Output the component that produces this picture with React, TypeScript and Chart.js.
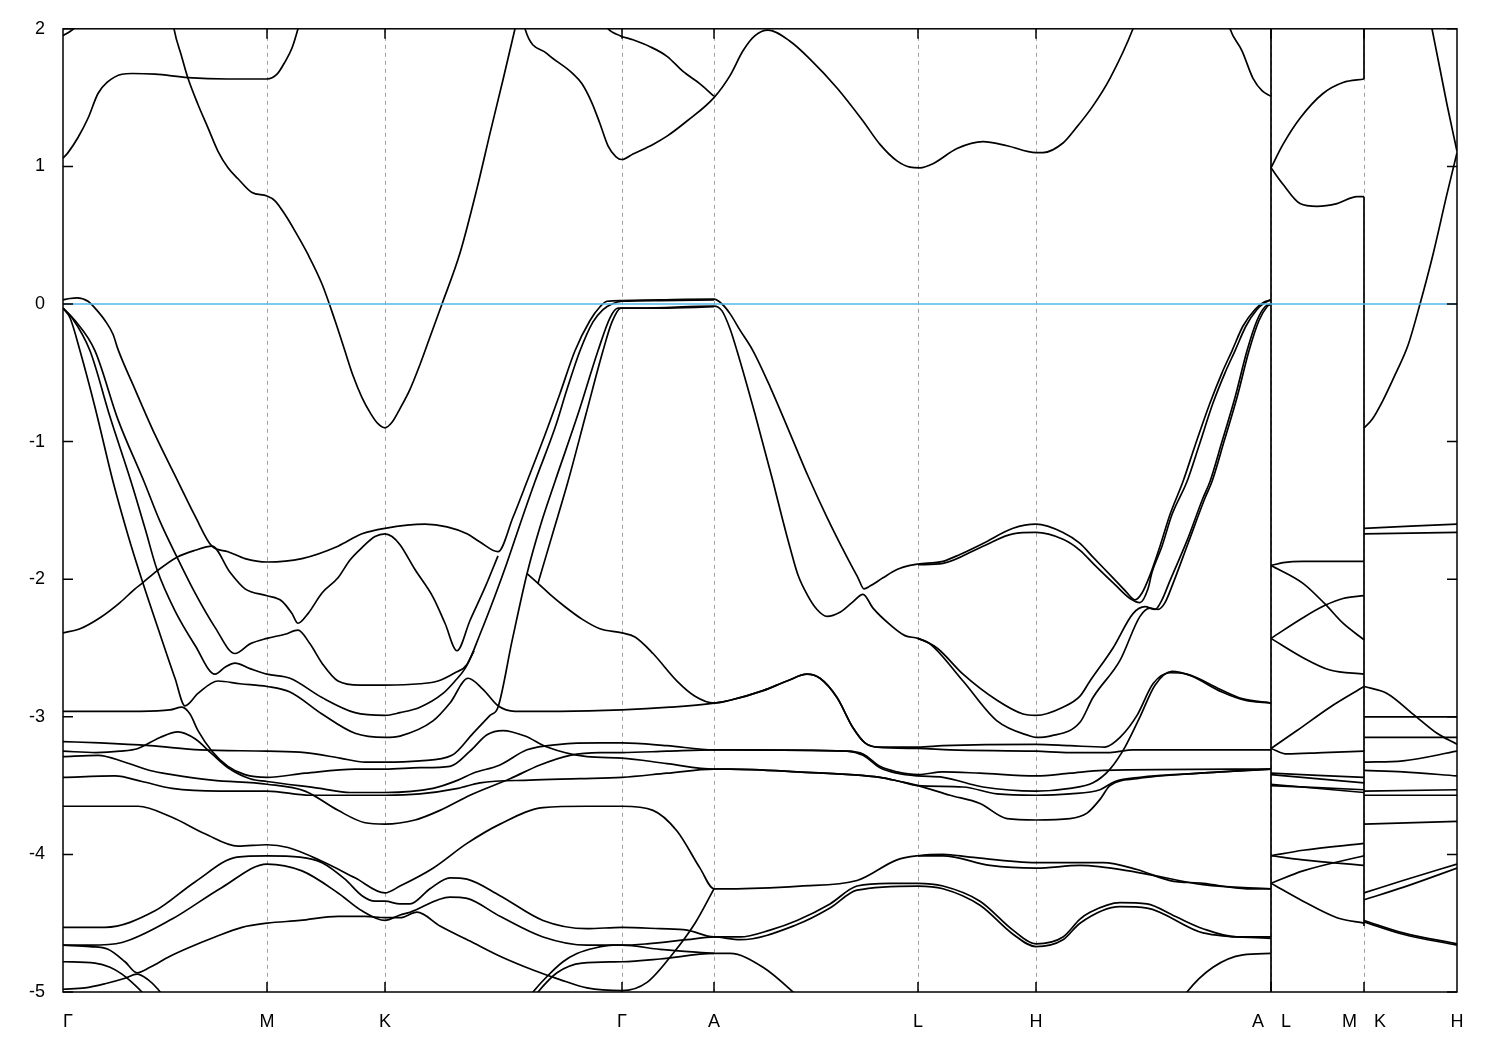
import React, { useEffect, useRef } from "react";
import { Chart, registerables } from "chart.js";

Chart.register(...registerables);

type Pt = [number, number];

// ---- axis data ----
const kTicks: number[] = [0, 204, 322, 559, 651, 855, 973, 1208, 1301, 1394];
const kLabels: string[] = ["Γ", "M", "K", "Γ", "A", "L", "H", "A|L", "M|K", "H"];
const eMin = -5;
const eMax = 2;
const fermiLevel = 0;

// ---- main path bands (Γ-M-K-Γ-A-L-H-A) ----
const C0: Pt[] = [[0, 1.95], [7, 1.98], [14, 2.02], [27, 2.1]];
const C1: Pt[] = [[0, 1.06], [5, 1.1], [15, 1.21], [25, 1.35], [35, 1.53], [44, 1.61], [59, 1.67], [69, 1.675], [92, 1.67], [125, 1.645], [165, 1.635], [204, 1.635], [214, 1.67], [222, 1.76], [229, 1.86], [235, 2.0], [242, 2.2]];
const C2: Pt[] = [[107, 2.2], [111, 2.0], [119, 1.79], [125, 1.64], [135, 1.45], [145, 1.28], [155, 1.11], [165, 0.99], [175, 0.91], [189, 0.81], [204, 0.785], [212, 0.75], [222, 0.65], [232, 0.53], [245, 0.36], [259, 0.145], [272, -0.12], [281, -0.32], [290, -0.52], [299, -0.68], [308, -0.8], [315, -0.87], [322, -0.9], [329, -0.86], [337, -0.76], [347, -0.62], [357, -0.44], [367, -0.24], [379, 0.0], [397, 0.37], [414, 0.84], [427, 1.24], [440, 1.63], [452, 2.0], [457, 2.16]];
const C3: Pt[] = [[457, 2.2], [462, 2.0], [484, 1.82], [509, 1.68], [519, 1.6], [529, 1.46], [537, 1.31], [545, 1.15], [553, 1.07], [559, 1.05], [570, 1.09], [590, 1.16], [604, 1.22], [624, 1.33], [651, 1.5], [667, 1.66], [680, 1.84], [692, 1.95], [705, 1.99], [727, 1.91], [747, 1.78], [774, 1.57], [800, 1.33], [817, 1.16], [834, 1.04], [847, 0.995], [857, 0.99], [870, 1.02], [894, 1.13], [920, 1.18], [944, 1.15], [973, 1.1], [980, 1.1], [1000, 1.17], [1012, 1.27], [1030, 1.44], [1047, 1.64], [1070, 2.0], [1077, 2.15]];
const C4: Pt[] = [[537, 2.1], [545, 2.0], [557, 1.95], [570, 1.92], [587, 1.87], [604, 1.8], [620, 1.69], [637, 1.6], [651, 1.51]];
const C5: Pt[] = [[1162, 2.15], [1167, 2.0], [1179, 1.84], [1190, 1.64], [1199, 1.55], [1208, 1.51]];

const B1: Pt[] = [[0, 0.03], [7, 0.04], [14, 0.045], [25, 0.02], [32, -0.03], [42, -0.12], [50, -0.22], [55, -0.33], [72, -0.62], [92, -0.95], [115, -1.29], [132, -1.54], [149, -1.76], [165, -1.8], [182, -1.85], [204, -1.875], [239, -1.85], [275, -1.76], [299, -1.67], [322, -1.63], [362, -1.6], [384, -1.62], [404, -1.67], [417, -1.73], [435, -1.8], [450, -1.55], [464, -1.29], [482, -0.95], [497, -0.65], [512, -0.34], [527, -0.12], [537, -0.02], [544, 0.02], [559, 0.025], [597, 0.03], [651, 0.035], [659, 0.0], [667, -0.07], [677, -0.19], [690, -0.34], [707, -0.6], [727, -0.94], [745, -1.25], [764, -1.55], [784, -1.84], [795, -1.99], [801, -2.07], [807, -2.05], [820, -1.99], [834, -1.93], [847, -1.9], [855, -1.89], [880, -1.87], [897, -1.82], [920, -1.74], [950, -1.63], [973, -1.6], [1000, -1.66], [1017, -1.74], [1030, -1.84], [1050, -1.99], [1063, -2.09], [1072, -2.15], [1079, -2.1], [1087, -1.97], [1097, -1.76], [1107, -1.53], [1120, -1.29], [1132, -1.03], [1147, -0.72], [1159, -0.5], [1169, -0.34], [1180, -0.16], [1192, -0.04], [1200, 0.01], [1208, 0.03]];
const KP: Pt[] = [[0, -2.39], [17, -2.36], [37, -2.28], [57, -2.17], [72, -2.07], [79, -2.03], [94, -1.94], [114, -1.84], [132, -1.79], [149, -1.76], [167, -1.95], [182, -2.07], [204, -2.12], [219, -2.16], [229, -2.25], [235, -2.32], [245, -2.25], [259, -2.1], [275, -1.99], [287, -1.86], [299, -1.77], [312, -1.69], [322, -1.67], [329, -1.69], [337, -1.75], [352, -1.93], [370, -2.13], [382, -2.32], [394, -2.52], [407, -2.3], [422, -2.06], [435, -1.83]];
const SA: Pt[] = [[0, -0.03], [12, -0.12], [32, -0.34], [55, -0.84], [81, -1.29], [97, -1.58], [114, -1.84], [132, -2.1], [152, -2.35], [172, -2.54], [187, -2.47], [204, -2.43], [222, -2.4], [235, -2.37], [247, -2.47], [259, -2.61], [275, -2.74], [297, -2.77], [322, -2.77], [357, -2.76], [375, -2.74], [392, -2.68], [404, -2.62], [417, -2.4], [432, -2.12], [444, -1.88], [458, -1.58], [472, -1.29], [492, -0.9], [504, -0.62], [517, -0.34], [530, -0.13], [540, -0.04], [549, 0.0], [559, 0.02], [597, 0.025], [651, 0.03]];
const SB: Pt[] = [[0, -0.03], [9, -0.1], [27, -0.34], [47, -0.82], [68, -1.29], [82, -1.63], [94, -1.93], [112, -2.23], [132, -2.48], [152, -2.69], [162, -2.64], [172, -2.61], [187, -2.65], [204, -2.69], [227, -2.72], [259, -2.86], [292, -2.97], [322, -2.99], [337, -2.97], [357, -2.93], [380, -2.83], [392, -2.74], [402, -2.65], [411, -2.52]];
const SC: Pt[] = [[0, -0.03], [7, -0.1], [17, -0.34], [32, -0.75], [50, -1.29], [65, -1.68], [80, -2.03], [97, -2.4], [112, -2.72], [122, -2.92], [135, -2.83], [155, -2.74], [177, -2.76], [204, -2.78], [227, -2.82], [259, -2.98], [292, -3.12], [322, -3.15], [337, -3.14], [370, -3.03], [387, -2.9], [405, -2.72], [420, -2.8], [435, -2.92], [452, -2.96], [497, -2.96], [559, -2.95], [607, -2.93], [651, -2.9], [667, -2.88], [700, -2.81], [724, -2.74], [744, -2.69], [757, -2.72], [774, -2.86], [790, -3.08], [802, -3.19], [814, -3.22], [855, -3.23], [887, -3.24], [973, -3.25], [1007, -3.26], [1047, -3.26], [1070, -3.24], [1208, -3.24]];
const G239: Pt[] = [[464, -1.96], [475, -2.03], [487, -2.11], [502, -2.2], [519, -2.29], [537, -2.36], [559, -2.39], [572, -2.42], [590, -2.54], [614, -2.74], [632, -2.85], [651, -2.9], [667, -2.88], [700, -2.81], [724, -2.74], [744, -2.69], [757, -2.72], [774, -2.86], [790, -3.08], [802, -3.19], [814, -3.22], [855, -3.22], [880, -3.21], [973, -3.2], [1007, -3.21], [1042, -3.22], [1057, -3.15], [1074, -2.99], [1090, -2.76], [1107, -2.68], [1124, -2.69], [1157, -2.8], [1180, -2.87], [1208, -2.9]];
const LB: Pt[] = [[0, -3.18], [37, -3.19], [87, -3.21], [137, -3.24], [204, -3.25], [242, -3.26], [277, -3.3], [302, -3.33], [322, -3.33], [357, -3.32], [389, -3.28], [410, -3.12], [427, -2.99], [435, -2.93], [449, -2.45], [464, -1.96], [477, -1.62], [492, -1.29], [515, -0.8], [535, -0.34], [547, -0.1], [555, -0.03], [577, -0.03], [651, -0.015], [659, -0.05], [667, -0.18], [674, -0.34], [692, -0.8], [710, -1.29], [719, -1.55], [727, -1.77], [735, -1.97], [744, -2.11], [754, -2.22], [764, -2.27], [777, -2.24], [789, -2.17], [800, -2.11], [810, -2.21], [827, -2.33], [842, -2.41], [855, -2.43], [874, -2.5], [900, -2.69], [934, -2.88], [960, -2.98], [973, -2.99], [1000, -2.93], [1017, -2.85], [1027, -2.74], [1050, -2.5], [1070, -2.25], [1082, -2.2], [1092, -2.22], [1099, -2.15], [1107, -2.01], [1124, -1.72], [1140, -1.41], [1147, -1.29], [1159, -1.0], [1172, -0.68], [1184, -0.34], [1194, -0.12], [1202, -0.02], [1208, 0.0]];
const R4: Pt[] = [[475, -2.03], [490, -1.66], [505, -1.29], [523, -0.8], [540, -0.34], [549, -0.13], [558, -0.03], [597, -0.03], [651, -0.02]];
const LHB: Pt[] = [[855, -1.895], [880, -1.885], [920, -1.76], [950, -1.67], [973, -1.66], [1000, -1.71], [1017, -1.79], [1032, -1.9], [1052, -2.04], [1067, -2.14], [1077, -2.17], [1085, -2.07], [1089, -1.95], [1099, -1.76], [1109, -1.53], [1124, -1.29], [1136, -1.03], [1150, -0.72], [1162, -0.5], [1172, -0.34], [1183, -0.16], [1194, -0.04], [1202, 0.01], [1208, 0.03]];
const PLOW: Pt[] = [[855, -2.43], [867, -2.47], [900, -2.74], [934, -3.03], [967, -3.14], [973, -3.15], [987, -3.14], [1017, -3.04], [1030, -2.86], [1057, -2.59], [1077, -2.27], [1087, -2.21], [1095, -2.22], [1102, -2.17], [1109, -2.05], [1125, -1.74], [1142, -1.41], [1149, -1.29], [1161, -1.0], [1174, -0.68], [1186, -0.34], [1196, -0.12], [1204, -0.02], [1208, 0.0]];
const L1: Pt[] = [[0, -2.96], [37, -2.96], [77, -2.96], [107, -2.95], [119, -2.93], [127, -2.98], [135, -3.1], [149, -3.25], [165, -3.36], [182, -3.42], [204, -3.44], [242, -3.41], [292, -3.38], [322, -3.38], [357, -3.37], [387, -3.36], [407, -3.25], [424, -3.13], [440, -3.1], [462, -3.14], [484, -3.22], [524, -3.29], [559, -3.3], [604, -3.34], [651, -3.38], [667, -3.38], [734, -3.4], [817, -3.44], [837, -3.47], [855, -3.5], [887, -3.57], [917, -3.63], [944, -3.74], [973, -3.75], [1007, -3.74], [1024, -3.7], [1037, -3.6], [1047, -3.5], [1074, -3.45], [1137, -3.41], [1208, -3.38]];
const LC: Pt[] = [[0, -3.25], [33, -3.26], [57, -3.25], [75, -3.23], [97, -3.15], [115, -3.11], [132, -3.16], [149, -3.27], [165, -3.37], [187, -3.45], [204, -3.47], [257, -3.52], [287, -3.55], [322, -3.55], [370, -3.52], [395, -3.46], [410, -3.41], [437, -3.35], [464, -3.24], [497, -3.2], [537, -3.19], [559, -3.19], [604, -3.21], [651, -3.24], [667, -3.24], [784, -3.25], [800, -3.27], [817, -3.36], [834, -3.4], [855, -3.42], [880, -3.4], [917, -3.41], [973, -3.43], [1007, -3.41], [1040, -3.39], [1208, -3.38]];
const LD: Pt[] = [[0, -3.29], [35, -3.28], [62, -3.33], [87, -3.39], [109, -3.42], [149, -3.46], [204, -3.49], [242, -3.54], [275, -3.68], [302, -3.77], [322, -3.78], [352, -3.75], [377, -3.68], [407, -3.57], [447, -3.45], [477, -3.35], [507, -3.28], [537, -3.26], [559, -3.26], [604, -3.25], [651, -3.24], [667, -3.24], [784, -3.25], [800, -3.28], [817, -3.37], [834, -3.41], [855, -3.43], [880, -3.44], [920, -3.51], [973, -3.54], [1007, -3.52], [1030, -3.48], [1047, -3.38], [1062, -3.22], [1077, -3.0], [1092, -2.77], [1109, -2.67], [1127, -2.7], [1159, -2.82], [1182, -2.88], [1208, -2.9]];
const LE: Pt[] = [[0, -3.44], [52, -3.43], [79, -3.47], [109, -3.52], [157, -3.54], [204, -3.54], [247, -3.57], [322, -3.57], [357, -3.56], [395, -3.52], [417, -3.48], [467, -3.46], [517, -3.45], [559, -3.44], [604, -3.41], [651, -3.38], [667, -3.38], [734, -3.4], [817, -3.44], [837, -3.47], [855, -3.5], [900, -3.51], [934, -3.56], [973, -3.57], [1007, -3.56], [1037, -3.53], [1052, -3.47], [1077, -3.44], [1137, -3.41], [1208, -3.38]];
const LF: Pt[] = [[0, -3.65], [37, -3.65], [75, -3.65], [109, -3.73], [142, -3.85], [175, -3.94], [204, -3.93], [225, -3.95], [259, -4.05], [292, -4.17], [322, -4.28], [337, -4.23], [370, -4.1], [404, -3.92], [437, -3.78], [480, -3.66], [524, -3.65], [559, -3.65], [590, -3.68], [614, -3.83], [637, -4.1], [651, -4.25], [667, -4.25], [737, -4.23], [794, -4.19], [834, -4.04], [855, -4.01], [880, -4.0], [907, -4.02], [973, -4.06], [1007, -4.06], [1040, -4.06], [1074, -4.11], [1107, -4.19], [1140, -4.21], [1184, -4.25], [1208, -4.25]];
const LF2: Pt[] = [[855, -4.01], [880, -4.01], [927, -4.08], [973, -4.1], [1017, -4.08], [1074, -4.13], [1140, -4.22], [1208, -4.25]];
const LG: Pt[] = [[0, -4.53], [42, -4.53], [92, -4.41], [132, -4.2], [174, -4.02], [204, -4.01], [237, -4.02], [259, -4.06], [282, -4.18], [299, -4.3], [312, -4.34], [322, -4.34], [337, -4.36], [347, -4.36], [367, -4.25], [387, -4.17], [404, -4.18], [437, -4.3], [480, -4.48], [524, -4.54], [559, -4.53], [597, -4.54], [624, -4.55], [651, -4.6], [677, -4.6], [707, -4.55], [734, -4.48], [767, -4.36], [794, -4.23], [827, -4.21], [855, -4.21], [880, -4.23], [917, -4.34], [950, -4.55], [973, -4.65], [1000, -4.6], [1017, -4.47], [1027, -4.42], [1057, -4.35], [1084, -4.36], [1112, -4.45], [1140, -4.54], [1174, -4.6], [1208, -4.6]];
const LH: Pt[] = [[0, -4.66], [27, -4.66], [59, -4.64], [109, -4.47], [159, -4.24], [204, -4.07], [239, -4.12], [275, -4.28], [299, -4.41], [322, -4.48], [337, -4.44], [347, -4.42], [387, -4.31], [404, -4.32], [437, -4.45], [480, -4.6], [524, -4.66], [559, -4.66], [584, -4.65], [624, -4.62], [651, -4.6], [677, -4.62], [734, -4.51], [767, -4.39], [794, -4.26], [855, -4.23], [880, -4.25], [917, -4.37], [950, -4.58], [973, -4.67], [1000, -4.62], [1017, -4.5], [1057, -4.38], [1084, -4.39], [1140, -4.57], [1208, -4.61]];
const LV: Pt[] = [[0, -4.66], [27, -4.67], [45, -4.69], [62, -4.78], [74, -4.86], [87, -4.82], [107, -4.74], [125, -4.68], [152, -4.6], [179, -4.53], [204, -4.5], [237, -4.48], [275, -4.45], [302, -4.45], [322, -4.46], [337, -4.46], [354, -4.42], [377, -4.52], [407, -4.63], [437, -4.74], [470, -4.84], [497, -4.91], [524, -4.97], [559, -4.99], [584, -4.93], [610, -4.72], [632, -4.5], [651, -4.25]];
const LJ: Pt[] = [[0, -4.78], [32, -4.79], [47, -4.82], [59, -4.87], [69, -4.93], [79, -5.0], [89, -5.08]];
const LK: Pt[] = [[0, -4.98], [22, -4.97], [42, -4.94], [62, -4.9], [74, -4.87], [85, -4.91], [95, -4.98], [102, -5.05]];
const G478: Pt[] = [[467, -5.08], [475, -5.0], [494, -4.86], [519, -4.79], [559, -4.78], [597, -4.76], [651, -4.72], [667, -4.72], [700, -4.82], [730, -5.0], [737, -5.05]];
const G466: Pt[] = [[462, -5.08], [470, -5.0], [485, -4.88], [500, -4.78], [514, -4.72], [532, -4.68], [550, -4.66], [559, -4.66], [597, -4.69], [651, -4.72]];
const HA9: Pt[] = [[1117, -5.08], [1124, -5.0], [1150, -4.82], [1180, -4.73], [1208, -4.72]];

// ---- L-M segment ----
const LMc1: Pt[] = [[1208, 0.99], [1220, 1.16], [1237, 1.35], [1260, 1.53], [1280, 1.61], [1301, 1.635]];
const LMc2: Pt[] = [[1208, 0.99], [1220, 0.87], [1237, 0.73], [1254, 0.71], [1274, 0.73], [1294, 0.78], [1301, 0.78]];
const LMv1: Pt[] = [[1208, -1.9], [1220, -1.88], [1240, -1.87], [1301, -1.87]];
const LMv2: Pt[] = [[1208, -1.9], [1240, -2.03], [1262, -2.18], [1280, -2.32], [1301, -2.44]];
const LMv3: Pt[] = [[1208, -2.43], [1240, -2.28], [1262, -2.19], [1280, -2.14], [1301, -2.12]];
const LMv4: Pt[] = [[1208, -2.43], [1240, -2.57], [1267, -2.66], [1301, -2.69]];
const LMv5: Pt[] = [[1208, -3.23], [1234, -3.1], [1267, -2.93], [1301, -2.78]];
const LMv6: Pt[] = [[1208, -3.23], [1224, -3.27], [1260, -3.26], [1301, -3.25]];
const LMv7: Pt[] = [[1208, -3.41], [1301, -3.44]];
const LMv8: Pt[] = [[1208, -3.42], [1301, -3.48]];
const LMv9: Pt[] = [[1208, -3.49], [1301, -3.55]];
const LMv10: Pt[] = [[1208, -3.5], [1301, -3.53]];
const LMv11: Pt[] = [[1208, -4.01], [1240, -3.97], [1301, -3.92]];
const LMv12: Pt[] = [[1208, -4.01], [1240, -4.04], [1301, -4.08]];
const LMv13: Pt[] = [[1208, -4.21], [1240, -4.12], [1301, -4.01]];
const LMv14: Pt[] = [[1208, -4.21], [1240, -4.34], [1274, -4.46], [1301, -4.5]];

// ---- K-H segment ----
const KHtop: Pt[] = [[1360, 2.3], [1369, 2.0], [1384, 1.45], [1394, 1.11]];
const KHc: Pt[] = [[1301, -0.9], [1309, -0.84], [1320, -0.7], [1333, -0.5], [1345, -0.3], [1357, 0.0], [1370, 0.36], [1384, 0.8], [1394, 1.1]];
const KHv1: Pt[] = [[1301, -1.63], [1394, -1.6]];
const KHv2: Pt[] = [[1301, -1.67], [1394, -1.66]];
const KHv3: Pt[] = [[1301, -2.78], [1324, -2.83], [1350, -2.98], [1374, -3.12], [1394, -3.2]];
const KHv4: Pt[] = [[1301, -3.0], [1394, -3.0]];
const KHv5: Pt[] = [[1301, -3.15], [1394, -3.15]];
const KHv6: Pt[] = [[1301, -3.33], [1340, -3.32], [1394, -3.25]];
const KHv7: Pt[] = [[1301, -3.39], [1340, -3.4], [1394, -3.43]];
const KHv8: Pt[] = [[1301, -3.54], [1394, -3.53]];
const KHv9: Pt[] = [[1301, -3.57], [1394, -3.57]];
const KHv10: Pt[] = [[1301, -3.78], [1394, -3.76]];
const KHv11: Pt[] = [[1301, -4.28], [1340, -4.19], [1394, -4.07]];
const KHv12: Pt[] = [[1301, -4.33], [1340, -4.24], [1394, -4.1]];
const KHv13: Pt[] = [[1301, -4.48], [1340, -4.57], [1394, -4.65]];
const KHv14: Pt[] = [[1301, -4.49], [1340, -4.58], [1394, -4.66]];

// ---- path discontinuities (energy spans joined at A|L and M|K) ----
const jumpALSpans: [number, number][] = [[2.0, -5.0]];
const jumpMKSpans: [number, number][] = [[2.0, 1.635], [0.78, -4.52]];

const bands: Pt[][] = [
  C0, C1, C2, C3, C4, C5, B1, KP, SA, SB, SC, G239, LB, R4, LHB, PLOW,
  L1, LC, LD, LE, LF, LF2, LG, LH, LV, LJ, LK, G478, G466, HA9,
  LMc1, LMc2, LMv1, LMv2, LMv3, LMv4, LMv5, LMv6, LMv7, LMv8, LMv9, LMv10, LMv11, LMv12, LMv13, LMv14,
  KHtop, KHc, KHv1, KHv2, KHv3, KHv4, KHv5, KHv6, KHv7, KHv8, KHv9, KHv10, KHv11, KHv12, KHv13, KHv14,
];

const FONT = "'Liberation Sans', Arial, Helvetica, sans-serif";
const BAND_WIDTH = 1.7;

const framePlugin = {
  id: "gnuFrame",
  beforeDatasetsDraw(chart: any) {
    const { ctx, chartArea, scales } = chart;
    const { top, bottom } = chartArea;
    ctx.save();
    ctx.strokeStyle = "#a0a0a0";
    ctx.lineWidth = 1;
    ctx.setLineDash([4, 4]);
    kTicks.slice(1, -1).forEach((k) => {
      const px = Math.round(scales.x.getPixelForValue(k)) + 0.5;
      ctx.beginPath();
      ctx.moveTo(px, top);
      ctx.lineTo(px, bottom);
      ctx.stroke();
    });
    ctx.restore();
  },
  afterDraw(chart: any) {
    const { ctx, chartArea, scales } = chart;
    const { left, right, top, bottom } = chartArea;
    ctx.save();
    ctx.strokeStyle = "#000";
    ctx.lineWidth = 1.5;
    ctx.setLineDash([]);
    ctx.strokeRect(left, top, right - left, bottom - top);
    const tl = 10;
    ctx.beginPath();
    for (let e = eMin; e <= eMax; e++) {
      const py = scales.y.getPixelForValue(e);
      ctx.moveTo(left, py);
      ctx.lineTo(left + tl, py);
      ctx.moveTo(right, py);
      ctx.lineTo(right - tl, py);
    }
    kTicks.slice(1, -1).forEach((k) => {
      const px = scales.x.getPixelForValue(k);
      ctx.moveTo(px, top);
      ctx.lineTo(px, top + tl);
      ctx.moveTo(px, bottom);
      ctx.lineTo(px, bottom - tl);
    });
    ctx.stroke();
    ctx.fillStyle = "#000";
    ctx.font = `18px ${FONT}`;
    ctx.textBaseline = "alphabetic";
    const ty = bottom + 35;
    kTicks.forEach((k, i) => {
      const px = scales.x.getPixelForValue(k);
      const lab = kLabels[i];
      if (lab.includes("|")) {
        const [a, b] = lab.split("|");
        ctx.textAlign = "right";
        ctx.fillText(a, px - 7, ty);
        ctx.textAlign = "left";
        ctx.fillText(b, px + 10, ty);
      } else if (i === 0) {
        ctx.textAlign = "left";
        ctx.fillText(lab, px, ty);
      } else {
        ctx.textAlign = "center";
        ctx.fillText(lab, px, ty);
      }
    });
    ctx.restore();
  },
};

export default function App() {
  const ref = useRef<HTMLCanvasElement | null>(null);
  useEffect(() => {
    document.body.style.margin = "0";
    const canvas = ref.current;
    if (!canvas) return;
    const line = (pts: Pt[], color: string, width: number, smooth: boolean, order: number) => ({
      type: "line" as const,
      data: pts.map(([x, y]) => ({ x, y })),
      borderColor: color,
      backgroundColor: color,
      borderWidth: width,
      pointRadius: 0,
      fill: false,
      tension: 0,
      cubicInterpolationMode: smooth ? ("monotone" as const) : ("default" as const),
      order,
    });
    const datasets: any[] = [];
    bands.forEach((b) => datasets.push(line(b, "#000", BAND_WIDTH, true, 2)));
    jumpALSpans.forEach(([a, b]) => datasets.push(line([[kTicks[7], a], [kTicks[7], b]], "#000", BAND_WIDTH, false, 2)));
    jumpMKSpans.forEach(([a, b]) => datasets.push(line([[kTicks[8], a], [kTicks[8], b]], "#000", BAND_WIDTH, false, 2)));
    datasets.push(line([[kTicks[0], fermiLevel], [kTicks[kTicks.length - 1], fermiLevel]], "#56b4e9", 1.5, false, 0));

    const chart = new Chart(canvas, {
      type: "line",
      data: { datasets },
      plugins: [framePlugin],
      options: {
        animation: false,
        responsive: false,
        events: [],
        layout: { padding: { top: 28, right: 43, left: 0, bottom: 0 } },
        elements: { line: { capBezierPoints: false } },
        plugins: { legend: { display: false }, tooltip: { enabled: false } },
        scales: {
          x: {
            type: "linear",
            min: kTicks[0],
            max: kTicks[kTicks.length - 1],
            grid: { display: false, drawTicks: false },
            border: { display: false },
            ticks: { display: false },
            afterFit: (s: any) => {
              s.height = 58;
            },
          },
          y: {
            type: "linear",
            min: eMin,
            max: eMax,
            grid: { display: false, drawTicks: false },
            border: { display: false },
            ticks: {
              stepSize: 1,
              padding: 18,
              color: "#000",
              font: { family: FONT, size: 18 },
              callback: (v: any) => String(v),
            },
            afterFit: (s: any) => {
              s.width = 63;
            },
          },
        },
      },
    } as any);
    return () => chart.destroy();
  }, []);
  return (
    <div style={{ width: 1500, height: 1050, background: "#fff" }}>
      <canvas ref={ref} width={1500} height={1050} style={{ display: "block", width: 1500, height: 1050 }} />
    </div>
  );
}
